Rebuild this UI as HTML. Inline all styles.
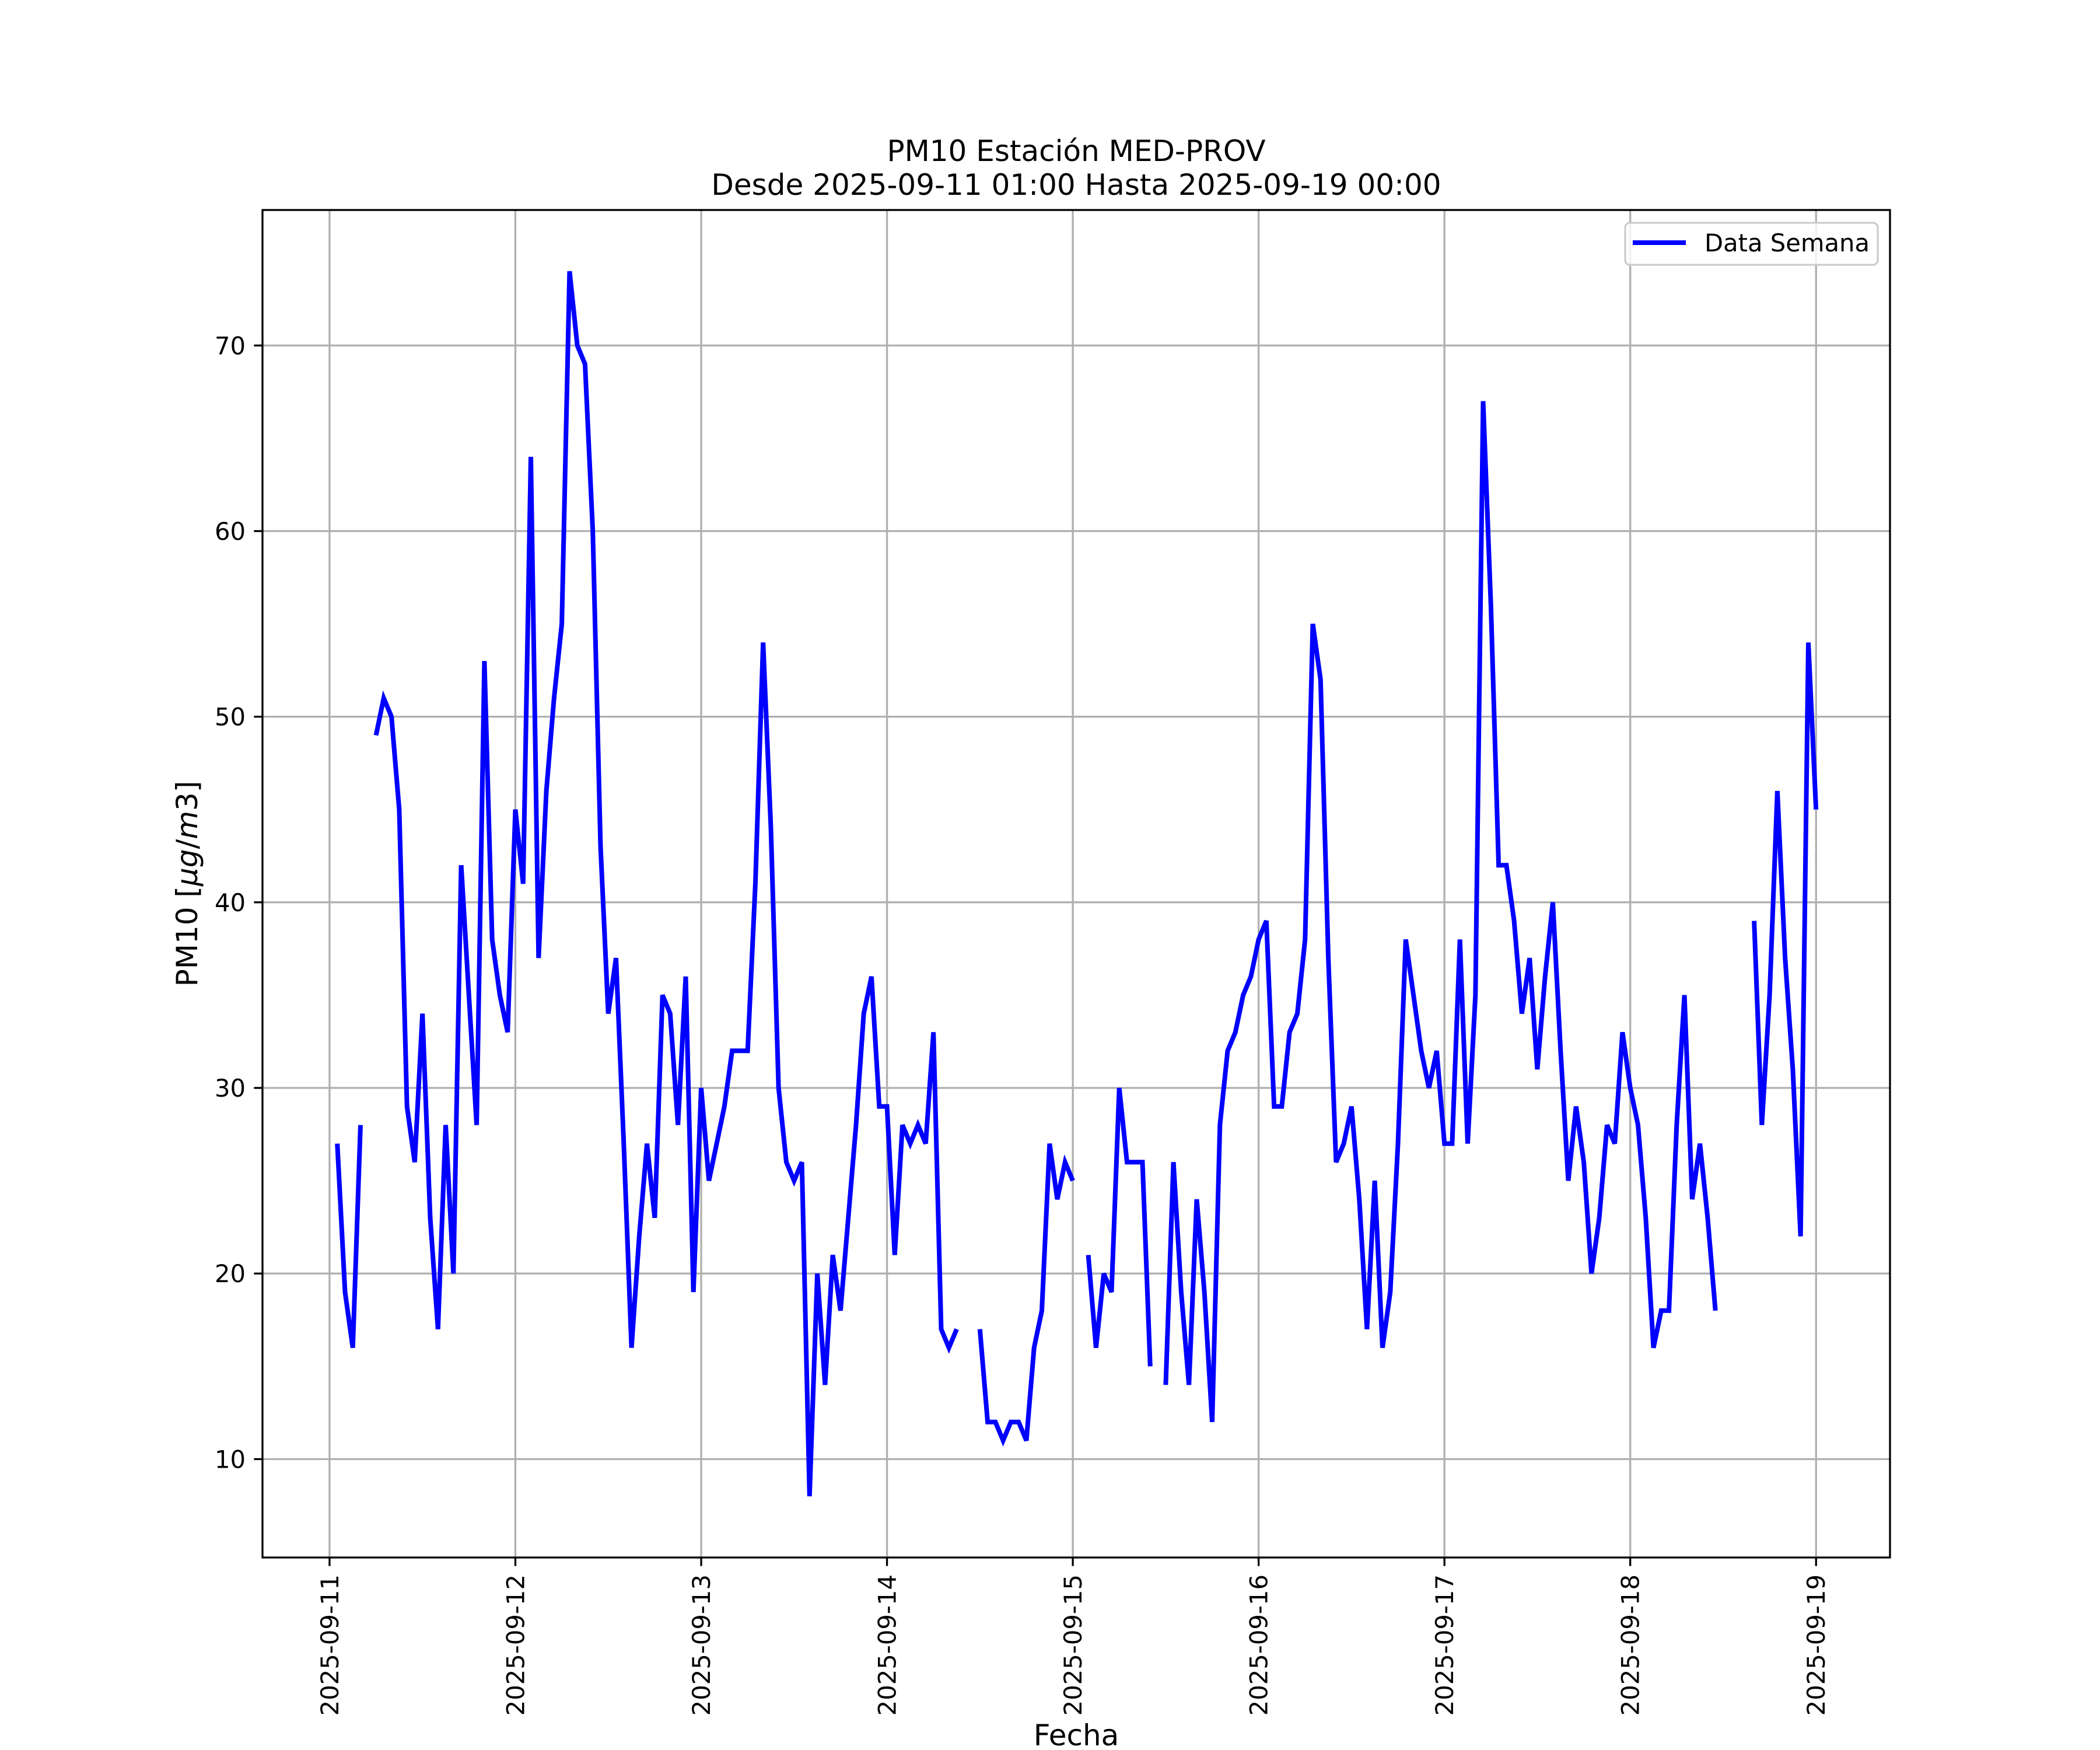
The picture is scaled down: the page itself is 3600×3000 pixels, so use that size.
<!DOCTYPE html>
<html><head><meta charset="utf-8"><style>
html,body{margin:0;padding:0;background:#fff;}
svg{display:block;font-family:"DejaVu Sans","Liberation Sans",sans-serif;}
</style></head><body>
<svg id="chart" width="3600" height="3000" viewBox="0 0 3600 3000" xmlns="http://www.w3.org/2000/svg">
<rect width="3600" height="3000" fill="#fff"/>
<text x="1845" y="276" font-size="50" text-anchor="middle">PM10 Estación MED-PROV</text>
<text x="1845" y="334" font-size="50" text-anchor="middle">Desde 2025-09-11 01:00 Hasta 2025-09-19 00:00</text>
<g id="grid"></g>
<g id="series"></g>
<rect x="450" y="360" width="2790" height="2310" fill="none" stroke="#000" stroke-width="3.3"/>
<g id="ticks"></g>
<text x="1845" y="2992" font-size="50" text-anchor="middle">Fecha</text>
<text transform="translate(338,1515) rotate(-90)" font-size="50" text-anchor="middle">PM10 [<tspan font-style="italic">μg</tspan>/<tspan font-style="italic">m</tspan>3]</text>
<g>
<rect x="2786" y="382" width="433" height="72" rx="8" fill="#fff" fill-opacity="0.8" stroke="#ccc" stroke-width="3.3"/>
<line x1="2799" y1="416" x2="2890" y2="416" stroke="#0000ff" stroke-width="8"/>
<text x="2922" y="431" font-size="41.7">Data Semana</text>
</g>
</svg>
<script>
// hourly values starting 2025-09-11 01:00 (null = missing)
const pm10Values = [27,19,16,28,null,49,51,50,45,29,26,34,23,17,28,20,42,35,28,53,38,35,33,45,
41,64,37,46,51,55,74,70,69,60,43,34,37,27,16,22,27,23,35,34,28,36,19,30,
25,27,29,32,32,32,41,54,44,30,26,25,26,8,20,14,21,18,23,28,34,36,29,29,
21,28,27,28,27,33,17,16,17,null,null,17,12,12,11,12,12,11,16,18,27,24,26,25,
null,21,16,20,19,30,26,26,26,15,null,14,26,19,14,24,19,12,28,32,33,35,36,38,
39,29,29,33,34,38,55,52,37,26,27,29,24,17,25,16,19,27,38,35,32,30,32,27,
27,38,27,35,67,56,42,42,39,34,37,31,36,40,32,25,29,26,20,23,28,27,33,30,
28,23,16,18,18,28,35,24,27,23,18,null,null,null,null,39,28,35,46,37,31,22,54,45];
const startHour = 1;
const yTicks = [10,20,30,40,50,60,70];
const xTickLabels = ["2025-09-11","2025-09-12","2025-09-13","2025-09-14","2025-09-15","2025-09-16","2025-09-17","2025-09-18","2025-09-19"];

const L=450,R=3240,T=360,B=2670;
const xMin=-8.66,xMax=201.55,yMin=4.7,yMax=77.3;
function xs(h){return L+(h-xMin)/(xMax-xMin)*(R-L);}
function ys(v){return B-(v-yMin)/(yMax-yMin)*(B-T);}
const NS="http://www.w3.org/2000/svg";
const grid=document.getElementById('grid'),ticks=document.getElementById('ticks'),series=document.getElementById('series');
function mk(tag,attrs,parent){const e=document.createElementNS(NS,tag);for(const k in attrs)e.setAttribute(k,attrs[k]);parent.appendChild(e);return e;}

yTicks.forEach(v=>{
  const y=ys(v);
  const g=mk('line',{x1:L,x2:R,y1:y,y2:y,stroke:'#b0b0b0','stroke-width':3.3},grid);
  
  
  const t=mk('line',{x1:L-14.6,x2:L,y1:y,y2:y,stroke:'#000','stroke-width':3.3},ticks);
  
  
  const tx=mk('text',{x:L-29,y:y+15,'font-size':41.7,'text-anchor':'end'},ticks);
  tx.textContent=v;
  
  
});
xTickLabels.forEach((lab,i)=>{
  const x=xs(i*24);
  const g=mk('line',{x1:x,x2:x,y1:T,y2:B,stroke:'#b0b0b0','stroke-width':3.3},grid);
  
  
  const t=mk('line',{x1:x,x2:x,y1:B,y2:B+14.6,stroke:'#000','stroke-width':3.3},ticks);
  
  
  const tx=mk('text',{transform:`translate(${x+15},${B+29}) rotate(-90)`,'font-size':41.7,'text-anchor':'end'},ticks);
  tx.textContent=lab;
  
  
});
let d='',pen=false;
pm10Values.forEach((v,i)=>{
  if(v===null){pen=false;return;}
  const x=xs(startHour+i).toFixed(1),y=ys(v).toFixed(1);
  d+=(pen?'L':'M')+x+' '+y+' ';pen=true;
});
const p=mk('path',{d:d,fill:'none',stroke:'#0000ff','stroke-width':8,'stroke-linejoin':'miter','stroke-linecap':'butt'},series);


</script>
</body></html>
